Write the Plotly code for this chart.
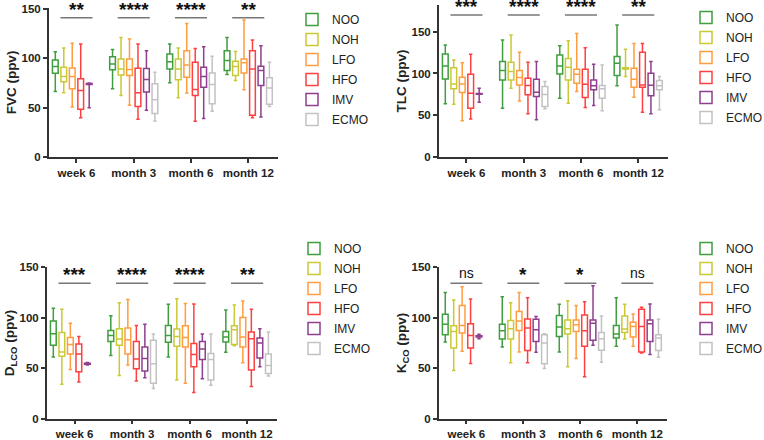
import plotly.graph_objects as go

CATEGORIES = ["week 6", "month 3", "month 6", "month 12"]
GROUPS = ["NOO", "NOH", "LFO", "HFO", "IMV", "ECMO"]
COLORS = ["#3f9e3f", "#c9c936", "#ff9d40", "#ff4040", "#8e3f8e", "#c2c2c2"]

# five-number summaries per group and timepoint: (lower whisker, Q1, median, Q3, upper whisker)
FVC = {
    "NOO":  [(66.4, 84.9, 91.6, 98.3, 106.7), (69.1, 88.3, 94.3, 101.7, 109.0), (75.2, 89.3, 96.6, 104.4, 114.4), (83.6, 87.6, 97.7, 107.7, 121.1)],
    "NOH":  [(65.1, 76.2, 81.5, 91.0, 110.4), (62.4, 83.2, 89.3, 99.3, 121.0), (60.1, 78.2, 89.3, 99.3, 110.4), (77.5, 82.6, 91.6, 97.0, 107.0)],
    "LFO":  [(50.7, 69.1, 81.5, 90.3, 115.4), (52.4, 82.6, 88.6, 99.3, 119.5), (64.8, 80.9, 93.3, 107.7, 135.2), (68.1, 85.2, 95.6, 99.3, 138.9)],
    "HFO":  [(39.9, 48.3, 67.5, 79.2, 114.4), (38.3, 51.3, 65.1, 90.0, 114.4), (36.2, 62.4, 68.5, 96.0, 110.0), (39.9, 42.3, 89.3, 107.7, 118.5)],
    "IMV":  [(50.0, 73.5, 74.0, 74.5, 75.0), (47.3, 65.8, 78.5, 89.6, 107.7), (38.9, 70.8, 81.5, 90.9, 111.8), (40.6, 72.5, 87.6, 92.0, 112.8)],
    "ECMO": [None, (36.6, 44.0, 58.1, 74.2, 85.9), (46.3, 54.0, 73.5, 85.2, 102.0), (51.3, 53.4, 69.8, 80.2, 96.0)],
}
TLC = {
    "NOO":  [(63.7, 93.5, 109.0, 123.3, 134.1), (58.5, 92.3, 103.5, 114.2, 140.0), (70.4, 99.5, 109.0, 122.2, 133.3), (85.2, 97.5, 112.2, 120.2, 158.0)],
    "NOH":  [(63.3, 81.6, 87.5, 107.0, 116.2), (82.4, 92.3, 102.3, 113.4, 146.0), (64.5, 92.3, 107.4, 117.8, 139.3), (96.3, 105.4, 106.2, 107.0, 128.9)],
    "LFO":  [(43.4, 77.2, 87.5, 95.5, 113.0), (67.2, 86.3, 95.1, 103.5, 125.3), (78.4, 88.3, 99.1, 105.0, 148.0), (71.6, 83.6, 93.1, 106.2, 136.0)],
    "HFO":  [(45.4, 58.5, 76.4, 99.1, 123.0), (51.7, 74.4, 85.5, 94.3, 113.4), (59.3, 71.2, 87.1, 105.0, 130.9), (53.7, 83.6, 86.3, 125.3, 136.0)],
    "IMV":  [(65.7, 75.2, 75.6, 76.0, 82.4), (44.6, 72.4, 77.6, 93.1, 114.2), (61.7, 80.4, 85.2, 92.3, 111.0), (51.7, 73.2, 86.0, 100.3, 114.2)],
    "ECMO": [None, (57.7, 60.5, 74.8, 84.4, 90.3), (55.3, 70.4, 81.6, 85.5, 110.2), (56.5, 80.4, 85.2, 91.5, 96.3)],
}
DLCO = {
    "NOO":  [(61.3, 72.7, 84.1, 96.8, 109.2), (62.6, 76.6, 82.5, 87.4, 102.0), (61.3, 75.7, 82.5, 92.3, 113.2), (65.9, 76.0, 80.9, 86.4, 107.6)],
    "NOH":  [(34.2, 62.0, 66.2, 85.4, 108.3), (43.0, 72.7, 78.9, 89.0, 114.8), (38.5, 71.7, 81.5, 88.7, 118.7), (72.4, 73.4, 88.0, 92.0, 112.5)],
    "LFO":  [(48.9, 64.2, 73.4, 80.5, 94.6), (53.2, 64.2, 78.3, 89.7, 118.0), (35.2, 71.1, 80.5, 92.0, 114.1), (55.4, 71.1, 80.9, 100.1, 116.4)],
    "HFO":  [(36.5, 46.6, 64.2, 74.0, 81.5), (37.5, 49.6, 59.3, 76.6, 92.3), (26.1, 51.5, 63.6, 74.4, 113.5), (32.0, 48.3, 79.2, 85.8, 108.3)],
    "IMV":  [(53.3, 54.0, 54.5, 55.0, 55.7), (40.8, 47.3, 59.7, 71.1, 93.6), (39.8, 58.7, 69.1, 76.6, 83.8), (51.5, 60.3, 75.0, 79.9, 89.0)],
    "ECMO": [None, (30.0, 35.2, 54.5, 77.6, 83.8), (33.3, 38.5, 58.7, 64.6, 83.8), (42.4, 45.0, 52.8, 64.2, 85.8)],
}
KCO = {
    "NOO":  [(76.0, 83.2, 93.6, 103.4, 124.9), (71.1, 78.9, 87.1, 93.6, 120.7), (66.2, 81.5, 90.7, 102.1, 113.2), (71.7, 79.9, 83.8, 92.3, 119.7)],
    "NOH":  [(47.9, 70.1, 86.4, 92.0, 117.4), (55.4, 78.9, 89.0, 97.2, 114.8), (51.5, 83.8, 89.0, 97.8, 116.7), (78.9, 85.4, 88.7, 101.7, 113.2)],
    "LFO":  [(66.9, 84.8, 92.3, 111.9, 130.4), (66.2, 87.4, 96.8, 106.0, 124.9), (59.7, 86.4, 92.9, 97.8, 111.9), (71.7, 80.9, 91.3, 95.5, 103.7)],
    "HFO":  [(54.8, 70.1, 82.5, 93.9, 118.4), (55.4, 67.5, 89.7, 98.8, 119.7), (41.7, 71.7, 87.1, 102.7, 115.8), (65.2, 66.2, 91.3, 108.3, 110.2)],
    "IMV":  [(79.3, 80.8, 81.5, 82.2, 83.7), (65.9, 76.6, 88.0, 98.5, 101.1), (72.7, 77.6, 94.6, 97.8, 131.4), (63.6, 76.6, 93.9, 97.8, 113.5)],
    "ECMO": [None, (49.9, 54.5, 75.0, 83.2, 84.1), (56.1, 67.8, 79.2, 85.4, 101.7), (61.0, 67.5, 79.9, 83.2, 98.5)],
}

PANEL_TITLES = ["FVC (ppv)", "TLC (ppv)", "D<sub>LCO</sub> (ppv)", "K<sub>CO</sub> (ppv)"]
SIG_LABELS = [
    ["**", "****", "****", "**"],
    ["***", "****", "****", "**"],
    ["***", "****", "****", "**"],
    ["ns", "*", "*", "ns"],
]
SIG_LINE_Y = [141, 170, 134, 134]
Y_RANGES = [[0, 151], [0, 182], [0, 150], [0, 150]]
Y_TICKS = [0, 50, 100, 150]

W, H = 764, 440
# panel pixel boxes: (left, right, top, bottom)
PANELS = [(49, 278, 8, 157), (439, 668, 5, 157), (47, 277, 267, 419), (439, 667, 267, 419)]
LEGEND_POS = [(292, 5), (686, 3), (294, 234), (686, 234)]

DATA = [FVC, TLC, DLCO, KCO]
X_RANGE = [-0.48, 3.52]
STEP = 0.148
BOX_W = 0.1

FONT = "Liberation Sans, Arial, sans-serif"
fig = go.Figure()
tick_font = dict(family=FONT, size=11.5, color="#222", weight="bold")

for p, (panel, (l, r, t, b)) in enumerate(zip(DATA, PANELS)):
    ax = "" if p == 0 else str(p + 1)
    leg = "legend" if p == 0 else f"legend{p + 1}"
    for g, (grp, col) in enumerate(zip(GROUPS, COLORS)):
        xs, lo, q1, md, q3, hi = [], [], [], [], [], []
        for c, s in enumerate(panel[grp]):
            if s is None:
                continue
            xs.append(c + (g - 2.5) * STEP)
            lo.append(s[0]); q1.append(s[1]); md.append(s[2]); q3.append(s[3]); hi.append(s[4])
        fig.add_trace(go.Box(
            x=xs, q1=q1, median=md, q3=q3, lowerfence=lo, upperfence=hi,
            name=grp, width=BOX_W, whiskerwidth=0.6, boxpoints=False,
            line=dict(color=col, width=1.5), fillcolor="rgba(255,255,255,0)",
            xaxis="x" + ax, yaxis="y" + ax, legend=leg, showlegend=True,
            legendgroup=f"{p}-{grp}",
        ))
    fig.update_layout(**{
        "xaxis" + ax: dict(
            domain=[l / W, r / W], range=X_RANGE, anchor="y" + ax,
            tickvals=list(range(len(CATEGORIES))), ticktext=CATEGORIES,
            showline=True, linecolor="#333", linewidth=2, ticks="outside",
            ticklen=4 if p < 2 else 3, tickwidth=1.5, tickcolor="#333",
            showgrid=False, zeroline=False, tickfont=tick_font, automargin=False,
        ),
        "yaxis" + ax: dict(
            domain=[1 - b / H, 1 - t / H], range=Y_RANGES[p], anchor="x" + ax,
            tickvals=Y_TICKS, showline=True, linecolor="#333", linewidth=2,
            ticks="outside", ticklen=4, tickwidth=1.5, tickcolor="#333",
            showgrid=False, zeroline=False, tickfont=tick_font, automargin=False,
            title=dict(text=PANEL_TITLES[p], standoff=2,
                       font=dict(family=FONT, size=13.5, color="#222", weight="bold")),
        ),
        leg: dict(
            x=LEGEND_POS[p][0] / W, y=1 - LEGEND_POS[p][1] / H, xanchor="left", yanchor="top",
            font=dict(family=FONT, size=12, color="#222"),
            bgcolor="rgba(0,0,0,0)", tracegroupgap=1,
        ),
    })
    for c, lab in enumerate(SIG_LABELS[p]):
        fig.add_shape(type="line", xref="x" + ax, yref="y" + ax,
                      x0=c - 0.28, x1=c + 0.28, y0=SIG_LINE_Y[p], y1=SIG_LINE_Y[p],
                      line=dict(color="#777", width=1.5))
        is_ns = lab == "ns"
        fig.add_annotation(
            xref="x" + ax, yref="y" + ax, x=c, y=SIG_LINE_Y[p], yanchor="bottom",
            yshift=0 if is_ns else -4, showarrow=False,
            text=lab if is_ns else "<b>" + lab + "</b>",
            font=dict(family=FONT, size=14 if is_ns else 19, color="#111"),
        )

fig.update_layout(
    width=W, height=H, margin=dict(l=0, r=0, t=0, b=0, autoexpand=False),
    paper_bgcolor="white", plot_bgcolor="white", boxmode="overlay",
)
fig.write_html("out.html", config={"displayModeBar": False},
               post_script="document.body.style.margin='0';")
